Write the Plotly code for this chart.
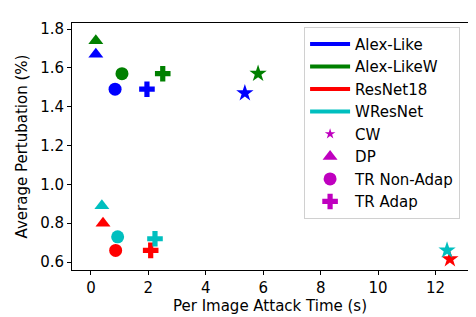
import plotly.graph_objects as go

models = ["Alex-Like", "Alex-LikeW", "ResNet18", "WResNet"]
model_colors = ["#0000ff", "#008000", "#ff0000", "#00bfbf"]
attacks = ["CW", "DP", "TR Non-Adap", "TR Adap"]
attack_symbols = ["star", "triangle-up", "circle", "cross"]

# per model: times and perturbations for [CW, DP, TR Non-Adap, TR Adap]
times = {
    "Alex-Like":  [5.36, 0.17, 0.84, 1.95],
    "Alex-LikeW": [5.82, 0.17, 1.08, 2.50],
    "ResNet18":   [12.5, 0.42, 0.86, 2.08],
    "WResNet":    [12.4, 0.38, 0.93, 2.23],
}
perts = {
    "Alex-Like":  [1.47, 1.67, 1.49, 1.49],
    "Alex-LikeW": [1.57, 1.74, 1.57, 1.57],
    "ResNet18":   [0.615, 0.80, 0.66, 0.66],
    "WResNet":    [0.66, 0.89, 0.73, 0.72],
}
x_ticks = [0, 2, 4, 6, 8, 10, 12]
y_ticks = [0.6, 0.8, 1.0, 1.2, 1.4, 1.6, 1.8]

FONT = "DejaVu Sans"
FS = 15
fig = go.Figure()

for m, c in zip(models, model_colors):
    fig.add_trace(go.Scatter(
        x=times[m], y=perts[m], mode="markers", showlegend=False,
        marker=dict(symbol=attack_symbols, color=c, size=13, opacity=1, line=dict(width=0)),
    ))

for m, c in zip(models, model_colors):
    fig.add_trace(go.Scatter(x=[None], y=[None], mode="lines", name=m,
                             line=dict(color=c, width=4)))
leg_sizes = [8, 13, 13, 13]
for a, s, sz in zip(attacks, attack_symbols, leg_sizes):
    fig.add_trace(go.Scatter(x=[None], y=[None], mode="markers", name=a,
                             marker=dict(symbol=s, color="#bf00bf", size=sz, opacity=1)))

axis_common = dict(showline=True, linecolor="black", linewidth=1, mirror=True,
                   ticks="outside", ticklen=4, tickcolor="black", showgrid=False,
                   zeroline=False, tickfont=dict(family=FONT, size=FS, color="black"))
fig.update_xaxes(range=[-0.66, 13.13], tickvals=x_ticks,
                 title=dict(text="Per Image Attack Time (s)", font=dict(family=FONT, size=FS, color="black"), standoff=2),
                 **axis_common)
fig.update_yaxes(range=[0.559, 1.831], tickvals=y_ticks, tickformat=".1f",
                 title=dict(text="Average Pertubation (%)", font=dict(family=FONT, size=FS, color="black"), standoff=8),
                 **axis_common)

fig.update_layout(
    width=476, height=317,
    margin=dict(l=64, r=16, t=15, b=55),
    plot_bgcolor="white", paper_bgcolor="white",
    font=dict(family=FONT, size=FS, color="black"),
    legend=dict(x=0.98, y=0.985, xanchor="right", yanchor="top",
                bgcolor="white", bordercolor="#d0d0d0", borderwidth=1,
                font=dict(family=FONT, size=FS, color="black"),
                tracegroupgap=0, itemwidth=40),
)

fig.write_html("out.html")
